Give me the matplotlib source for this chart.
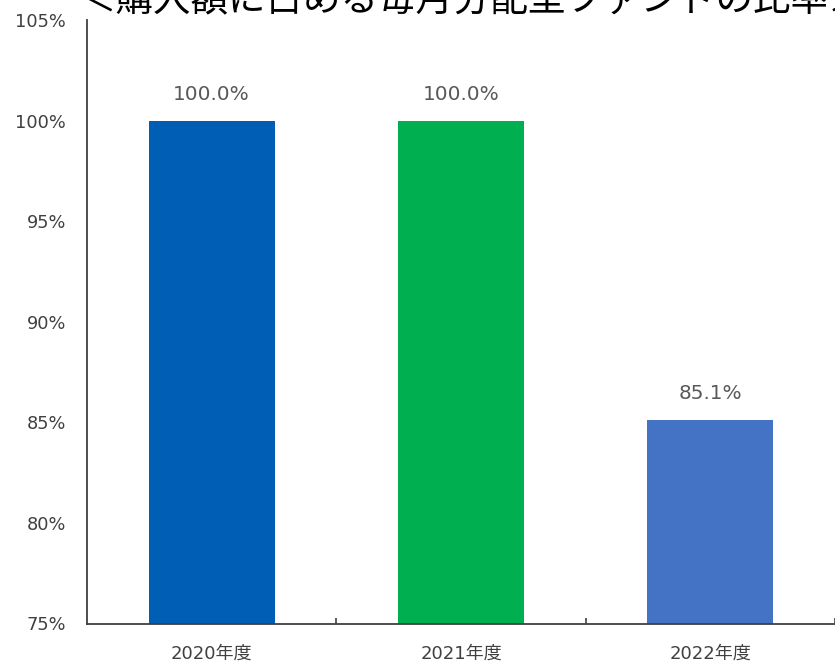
import matplotlib
matplotlib.use('Agg')
import matplotlib.pyplot as plt
from matplotlib.ticker import FixedLocator

# ─── DATA ───────────────────────────────────────────────────────────
years = ['2020年度', '2021年度', '2022年度']
ratios = [100.0, 100.0, 85.1]
bar_colors = ['#005EB4', '#00B050', '#4472C4']
y_ticks = [75, 80, 85, 90, 95, 100, 105]
title = '＜購入額に占める毎月分配型ファンドの比率＞'

FONTS = ['DejaVu Sans', 'Noto Sans CJK JP']

# ─── FIGURE ─────────────────────────────────────────────────────────
W, H = 835, 661
fig = plt.figure(figsize=(W / 100, H / 100), dpi=100)
ax = fig.add_axes([87 / W, (H - 623.5) / H, (W - 87) / W, (623.5 - 20) / H])

x = list(range(len(years)))
ax.bar(x, [r - 75 for r in ratios], bottom=75, width=0.505, color=bar_colors)

for xi, r in zip(x, ratios):
    ax.annotate(f'{r:.1f}%', (xi, r), xytext=(0, 19), textcoords='offset points',
                ha='center', va='center', fontsize=14.4, color='#595959', family=FONTS)

ax.set_xlim(-0.5, 2.5)
ax.set_ylim(75, 105)
ax.set_yticks(y_ticks)
ax.set_yticklabels([f'{t}%' for t in y_ticks], family=FONTS, fontsize=12.8, color='#404040')
ax.tick_params(axis='y', length=0, pad=15)

ax.set_xticks(x)
ax.set_xticklabels(years, family=FONTS, fontsize=13, color='#404040')
ax.tick_params(axis='x', which='major', length=0, pad=15)
ax.xaxis.set_minor_locator(FixedLocator([0.5, 1.5, 2.5]))
ax.tick_params(axis='x', which='minor', direction='in', length=4.5, width=1.2, color='#404040')

for side in ['top', 'right']:
    ax.spines[side].set_visible(False)
for side in ['left', 'bottom']:
    ax.spines[side].set_color('#404040')
    ax.spines[side].set_linewidth(1.3)

# title is cut off by the top/right edge in the source image
fig.text(78 / W, 1 - 11 / H, title, ha='left', va='baseline', fontsize=27,
         family=['Noto Sans CJK JP', 'DejaVu Sans'], color='black')

fig.savefig('out.png', dpi=100)
